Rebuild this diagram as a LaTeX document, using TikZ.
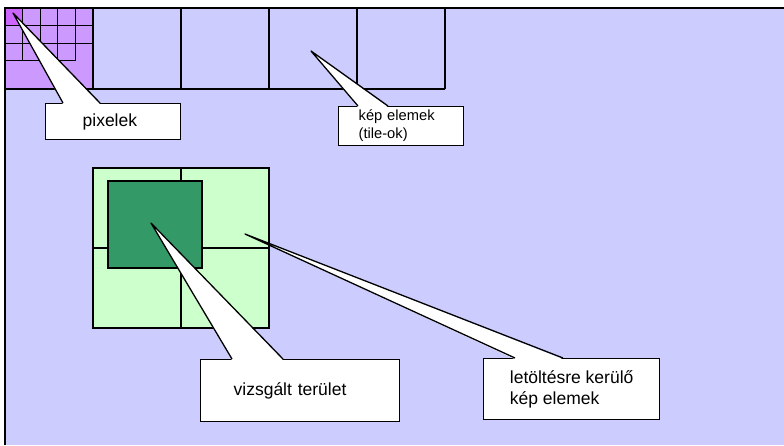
\documentclass[tikz,border=0pt]{standalone}
\usepackage{fontspec}
\setmainfont{Liberation Sans}
\usepackage{tikz}
\usetikzlibrary{calc}

\definecolor{lavender}{HTML}{CCCCFF}
\definecolor{tilepurple}{HTML}{CC99FF}
\definecolor{pixpurple}{HTML}{CC66FF}
\definecolor{lightgreen}{HTML}{CCFFCC}
\definecolor{darkgreen}{HTML}{339966}

\begin{document}
\begin{tikzpicture}[x=1pt, y=-1pt,
    tileline/.style={line width=1.3pt},
    callbox/.style={draw, fill=white, line width=1.3pt, anchor=north west,
      align=left, font=\fontsize{17.5}{21}\selectfont},
    pointer/.style={line width=1.3pt, line join=round}]
    \useasboundingbox (0,0) rectangle (784,445);
    \fill[lavender] (5,8) rectangle (784,445);

    % first tile with its pixels
    \fill[tilepurple] (5,8) rectangle (93,89);
    \fill[pixpurple] (5,8) rectangle (22.6,25.6);
    \foreach \i in {0,...,4}
      \foreach \j in {0,1}
        \draw[tileline] (5+17.6*\i, 8+17.6*\j) rectangle +(17.6,17.6);
    \foreach \i in {0,...,3}
      \draw[tileline] (5+17.6*\i, 43.2) rectangle +(17.6,17.6);

    % top row of tiles
    \draw[tileline] (5,89) -- (445,89);
    \foreach \x in {93,181,269,357,445}
      \draw[tileline] (\x,8) -- (\x,89);

    % tiles to load and the area looked at
    \fill[lightgreen] (93,168) rectangle (269,328);
    \foreach \i in {0,1}
      \foreach \j in {0,1}
        \draw[tileline] (93+88*\i, 168+80*\j) rectangle +(88,80);
    \draw[tileline, fill=darkgreen] (108,181) rectangle (202,268);

    \draw[line width=2pt] (5,445) -- (5,8) -- (784,8);

    % callouts
    \coordinate (pix-tip) at (13,13);
    \coordinate (tiles-tip) at (311,51);
    \coordinate (area-tip) at (151,223);
    \coordinate (load-tip) at (245,234);

    \node[callbox, minimum width=135, minimum height=36, text width=61,
      inner xsep=37] (pix) at (45,103) {pixelek};
    \node[callbox, font=\fontsize{14.7}{18}\selectfont, minimum width=125,
      minimum height=38, text width=85, inner xsep=20] (tiles) at (338,106)
      {kép elemek\\(tile-ok)};
    \node[callbox, minimum width=199, minimum height=62, text width=133,
      inner xsep=33] (area) at (200,359) {vizsgált terület};
    \node[callbox, minimum width=176, minimum height=61] (load) at (483,358)
      {letöltésre kerülő\\kép elemek};

    \foreach \n/\a/\b in {pix/18/55, tiles/20/50, area/32/83, load/32/80}{
      \fill[white] ($(\n.north west)+(\a,1.2)$) -- (\n-tip)
        -- ($(\n.north west)+(\b,1.2)$) -- cycle;
      \draw[pointer] ($(\n.north west)+(\a,0)$) -- (\n-tip)
        -- ($(\n.north west)+(\b,0)$);
    }
\end{tikzpicture}
\end{document}
